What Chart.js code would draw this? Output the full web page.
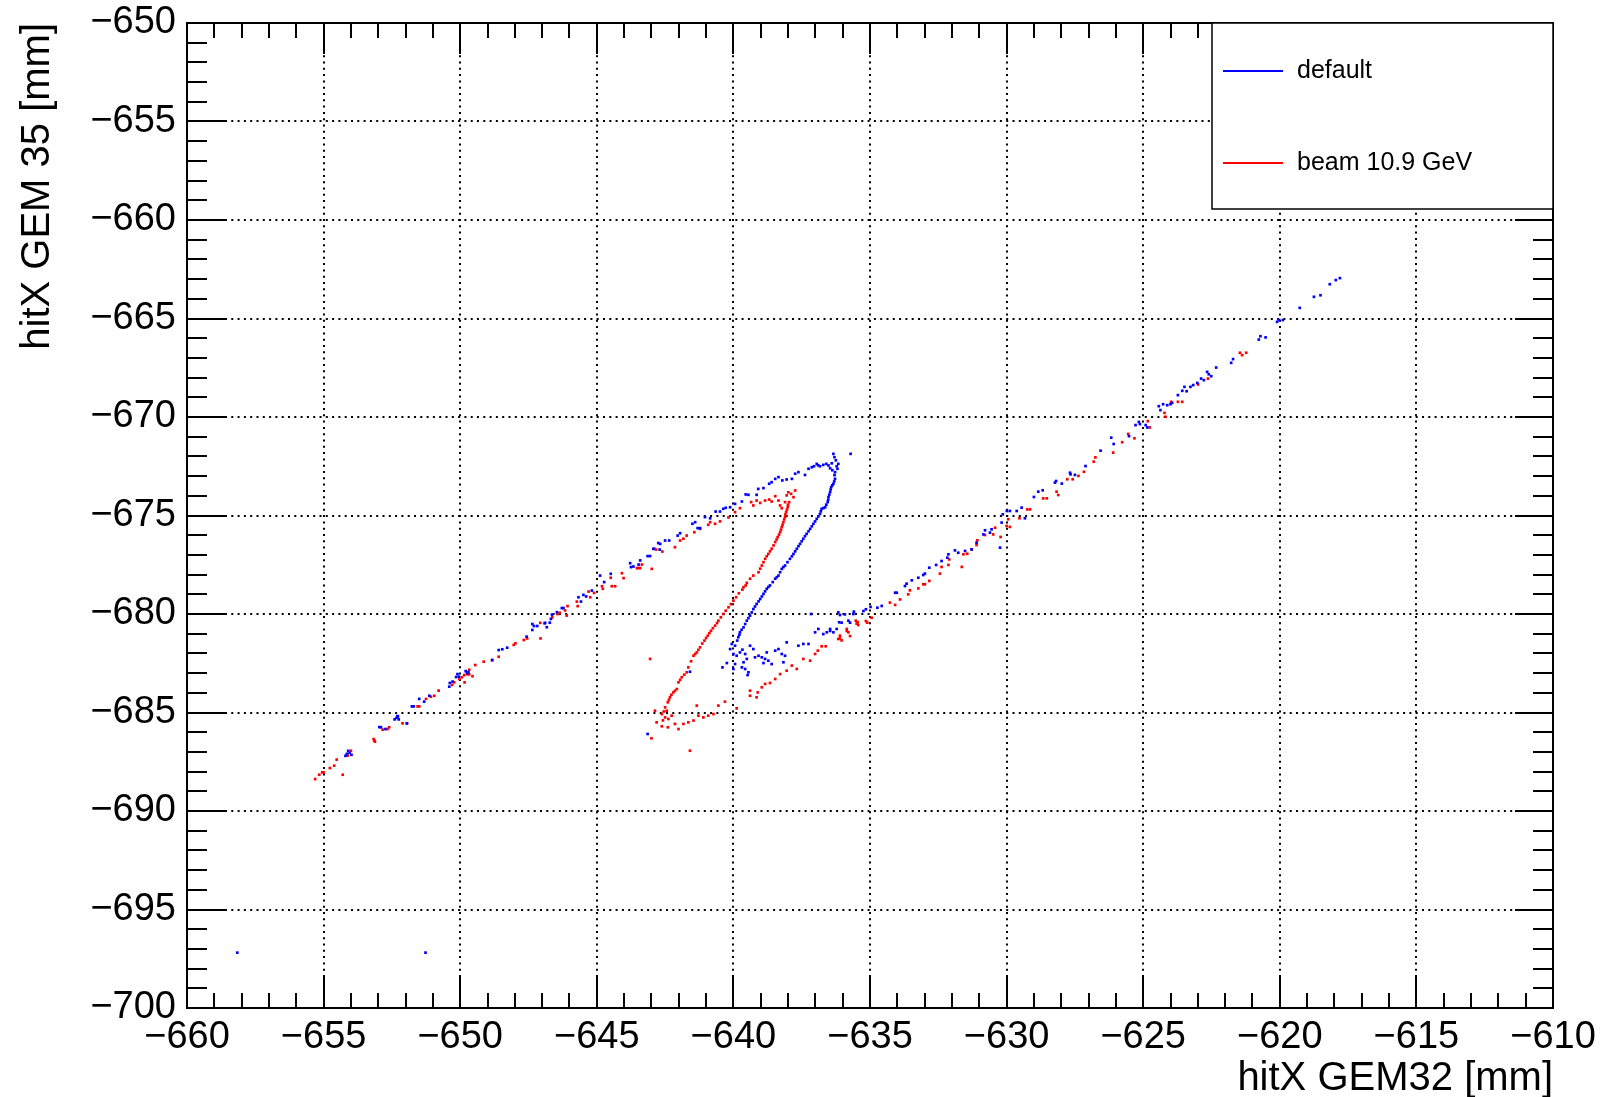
<!DOCTYPE html>
<html>
<head>
<meta charset="utf-8">
<title>hitX GEM32 vs GEM35</title>
<script src="https://cdn.jsdelivr.net/npm/chart.js@4.4.1/dist/chart.umd.min.js"></script>
<style>
  html, body { margin: 0; padding: 0; background: #fff; }
  #wrap { width: 1605px; height: 1097px; position: relative; }
</style>
</head>
<body>
<div id="wrap"><canvas id="grafica"></canvas></div>
<script>
// hits, [hitX GEM32, hitX GEM35] in mm
const defaultHits = [
  [-658.16,-697.19],[-651.27,-697.19],
  [-654.2,-687.2],[-654.1,-686.95],[-654.05,-687.05],[-653.98,-687.15],[-654.15,-687.1],
  [-652.96,-685.74],[-652.9,-685.75],[-652.74,-685.84],
  [-652.4,-685.35],[-652.33,-685.27],[-652.28,-685.2],[-652.25,-685.35],[-652.3,-685.18],
  [-651.95,-685.55],[-651.77,-684.69],[-651.7,-684.69],[-651.5,-684.31],[-651.32,-684.45],[-651.13,-684.15],
  [-650.4,-683.69],[-650.38,-683.5],[-650.28,-683.43],[-650.15,-683.2],[-650.1,-683.05],[-650.05,-683.18],
  [-649.8,-682.9],[-649.7,-682.95],[-649.75,-683.0],
  [-648.83,-682.34],[-648.59,-681.83],[-648.46,-681.79],[-648.28,-681.71],
  [-647.57,-681.15],[-647.36,-680.81],[-647.3,-680.61],[-647.18,-680.61],[-647.36,-680.51],
  [-646.91,-680.47],[-646.72,-680.44],[-646.89,-680.45],[-646.83,-680.67],[-646.68,-680.25],[-646.64,-680.03],
  [-646.46,-679.91],[-646.28,-679.7],[-646.22,-679.7],[-645.67,-679.15],[-645.58,-679.37],[-645.49,-679.03],
  [-645.39,-679.11],[-645.18,-678.81],[-644.88,-678.05],[-644.73,-678.38],[-644.49,-677.96],
  [-643.78,-677.42],[-643.75,-677.62],[-643.66,-677.59],[-643.41,-677.28],[-643.47,-677.49],
  [-643.14,-677.06],[-643.05,-677.06],[-642.7,-676.73],[-642.68,-676.44],
  [-642.93,-676.69],[-642.75,-676.4],[-642.5,-676.27],[-642.35,-676.27],[-642.04,-676.02],[-641.95,-675.9],
  [-641.5,-675.42],[-641.4,-675.34],[-641.31,-675.64],[-641.22,-675.64],[-641.04,-675.08],[-640.85,-675.14],
  [-640.65,-674.8],[-640.49,-674.8],[-640.37,-674.66],[-640.28,-674.61],[-640.12,-674.58],[-639.94,-674.41],
  [-639.69,-674.29],[-639.55,-673.93],[-639.45,-673.95],[-639.15,-673.95],[-639.09,-673.65],[-638.9,-673.61],
  [-638.69,-673.39],[-638.6,-673.31],[-638.47,-673.14],[-638.35,-673.05],[-638.21,-673.22],[-638.05,-673.17],
  [-637.86,-673.14],[-637.74,-672.88],[-637.62,-672.8],[-637.38,-672.94],[-637.25,-672.63],[-637.13,-672.55],
  [-636.95,-672.38],[-636.83,-672.5],[-636.71,-672.43],[-636.52,-672.46],[-636.46,-672.6],[-636.34,-671.87],
  [-636.3,-672.04],[-636.16,-672.38],[-636.19,-672.63],[-635.71,-671.87],
  [-636.6,-672.38],[-636.4,-672.35],[-636.25,-672.2],[-636.22,-672.5],[-636.9,-672.45],[-637.05,-672.5],[-636.38,-672.7],
  [-636.28,-672.8],[-636.28,-673.14],[-636.34,-673.39],[-636.42,-673.56],[-636.46,-673.81],[-636.52,-674.07],
  [-636.55,-674.32],[-636.64,-674.58],[-636.77,-674.66],[-636.83,-674.92],[-636.95,-675.17],[-637.07,-675.42],
  [-637.19,-675.68],[-637.32,-675.93],[-637.44,-676.18],[-637.56,-676.44],[-637.68,-676.69],[-637.8,-676.95],
  [-637.93,-677.2],[-638.11,-677.54],[-638.23,-677.71],[-638.35,-678.05],[-638.47,-678.21],[-638.66,-678.55],
  [-638.78,-678.72],[-638.9,-678.98],[-639.02,-679.24],[-639.15,-679.49],[-639.27,-679.75],[-639.39,-680.08],
  [-639.51,-680.34],[-639.63,-680.68],[-639.76,-680.93],[-639.82,-681.18],
  [-636.3,-672.95],[-636.31,-673.27],[-636.38,-673.47],[-636.44,-673.68],[-636.49,-673.94],[-636.53,-674.2],
  [-636.6,-674.45],[-636.7,-674.62],[-636.8,-674.79],[-636.89,-675.05],[-637.01,-675.3],[-637.13,-675.55],
  [-637.25,-675.8],[-637.38,-676.05],[-637.5,-676.31],[-637.62,-676.56],[-637.74,-676.82],[-637.86,-677.07],
  [-638.02,-677.37],[-638.17,-677.62],[-638.29,-677.88],[-638.41,-678.13],[-638.56,-678.38],[-638.72,-678.63],
  [-638.84,-678.85],[-638.96,-679.11],[-639.08,-679.36],[-639.21,-679.62],[-639.33,-679.92],[-639.45,-680.21],
  [-639.57,-680.51],[-639.7,-680.8],[-639.78,-681.05],[-639.86,-681.35],
  [-640.06,-681.52],[-639.94,-681.61],[-640.12,-681.78],[-640.0,-682.03],[-639.88,-682.12],[-639.76,-681.95],
  [-639.67,-681.81],[-639.57,-682.03],[-639.51,-682.28],[-639.63,-682.45],[-639.69,-682.71],[-639.57,-682.79],
  [-639.45,-682.96],[-639.94,-682.54],[-640.0,-682.79],[-640.24,-682.49],[-640.4,-682.71],[-639.39,-681.61],
  [-639.27,-681.78],[-639.21,-682.2],[-639.08,-682.12],[-638.96,-682.2],[-638.84,-682.28],[-638.72,-682.37],
  [-638.78,-681.95],[-638.6,-682.54],[-638.47,-681.86],[-638.35,-681.78],[-638.23,-682.03],[-638.11,-682.12],
  [-638.05,-681.44],[-638.17,-682.45],[-638.9,-682.49],[-639.48,-683.1],[-643.14,-686.09],[-641.59,-682.93],
  [-637.62,-681.61],[-637.44,-681.52],[-637.25,-681.52],[-637.01,-680.93],[-636.89,-680.76],[-636.71,-681.02],
  [-636.58,-680.93],[-636.46,-680.76],[-636.34,-680.93],[-636.22,-680.76],[-636.13,-680.42],[-635.79,-680.34],
  [-635.61,-680.0],[-636.16,-679.92],[-637.16,-680.0],
  [-636.46,-680.86],[-636.04,-680.44],[-636.1,-680.05],[-635.92,-680.02],[-635.73,-680.44],[-635.59,-679.88],
  [-635.24,-679.85],[-635.15,-679.76],[-634.98,-679.64],[-634.73,-679.68],[-634.57,-679.59],[-634.08,-678.92],
  [-634.02,-678.92],[-633.72,-678.58],[-633.66,-678.46],[-633.47,-678.29],[-633.23,-678.16],[-633.05,-678.02],
  [-632.99,-677.95],[-632.83,-677.65],[-632.58,-677.51],[-632.38,-677.31],[-632.17,-677.14],[-632.13,-676.97],
  [-631.89,-676.77],[-631.77,-676.89],[-631.52,-676.8],[-631.28,-676.72],[-631.1,-676.38],[-630.85,-675.96],
  [-630.79,-675.75],[-630.61,-675.87],[-630.55,-675.7],[-630.24,-676.63],[-630.18,-675.36],[-630.14,-674.94],
  [-629.99,-674.77],[-629.88,-674.77],[-629.63,-674.77],[-629.45,-674.6],[-629.33,-675.14],[-629.0,-674.06],
  [-628.84,-673.79],[-628.68,-673.72],[-628.23,-673.33],[-628.19,-673.25],[-627.98,-673.38],[-627.68,-672.83],
  [-627.66,-672.91],[-627.5,-672.94],[-627.11,-672.49],[-626.56,-671.71],[-626.17,-671.05],[-626.08,-671.37],
  [-625.52,-670.97],[-625.28,-670.41],[-625.16,-670.25],[-625.12,-670.36],[-624.91,-670.41],[-624.85,-670.53],
  [-624.43,-669.45],[-624.37,-669.65],[-624.27,-669.35],[-624.12,-669.4],[-624.0,-669.35],[-623.94,-669.28],
  [-623.73,-668.89],[-623.57,-668.67],[-623.49,-668.47],[-623.41,-668.69],[-623.27,-668.47],[-623.17,-668.38],
  [-623.02,-668.27],[-622.88,-668.05],[-622.78,-668.13],[-622.66,-667.71],[-622.6,-667.83],[-622.51,-667.93],
  [-622.33,-667.49],[-621.78,-667.25],[-621.71,-667.06],[-620.77,-666.07],[-620.71,-665.9],[-620.52,-665.96],
  [-620.1,-665.17],[-620.03,-665.08],[-619.89,-665.08],[-619.27,-664.46],[-618.75,-663.9],[-618.51,-663.82],
  [-618.17,-663.26],[-617.95,-663.05],[-617.8,-662.95]
];

const beamHits = [
  [-655.31,-688.38],[-655.16,-688.16],[-655.05,-688.04],[-655.0,-688.04],[-654.77,-687.82],[-654.61,-687.7],
  [-654.52,-687.39],[-654.3,-688.16],[-654.12,-687.19],[-654.0,-686.94],[-653.17,-686.35],[-653.12,-686.48],
  [-653.14,-686.42],[-652.84,-685.87],[-652.66,-685.84],[-652.6,-685.75],[-652.11,-685.55],[-651.95,-685.55],
  [-651.56,-684.69],[-651.5,-684.69],[-651.25,-684.31],[-651.07,-684.2],[-650.95,-684.15],[-650.79,-683.89],
  [-650.3,-683.6],[-650.22,-683.47],[-650.03,-683.3],[-649.94,-683.21],[-649.85,-683.1],[-649.73,-683.06],
  [-649.67,-683.06],[-649.55,-683.16],[-649.45,-682.59],[-649.67,-682.83],[-649.84,-683.47],
  [-649.14,-682.42],[-648.83,-682.34],[-648.59,-682.17],[-648.04,-681.57],[-647.98,-681.49],[-647.67,-681.32],
  [-647.55,-681.24],[-647.06,-681.24],[-646.63,-680.17],
  [-647.07,-680.45],[-646.44,-680.0],[-646.36,-679.94],[-646.16,-679.82],[-646.1,-680.08],[-646.07,-679.6],
  [-645.73,-679.37],[-645.7,-679.6],[-645.3,-678.86],[-645.24,-679.15],[-645.1,-678.93],[-644.81,-678.59],
  [-644.78,-678.72],[-644.49,-678.16],[-644.45,-678.59],[-644.33,-678.59],[-644.08,-677.93],[-644.02,-678.18],
  [-643.53,-677.67],[-643.47,-677.67],[-643.41,-677.67],[-643.35,-677.49],[-642.83,-676.73],
  [-642.99,-677.71],[-642.89,-676.69],[-642.6,-676.83],[-642.14,-676.61],[-641.95,-676.27],[-641.83,-676.18],
  [-641.71,-676.02],[-641.43,-675.85],[-641.22,-675.68],[-640.92,-675.47],[-640.85,-675.34],[-640.67,-675.42],
  [-640.49,-675.3],[-640.18,-675.1],[-639.94,-674.83],[-639.76,-674.63],[-639.35,-674.32],[-639.27,-674.49],
  [-639.15,-674.24],[-639.02,-674.36],[-638.84,-674.24],[-638.69,-674.19],[-638.6,-674.29],[-638.47,-674.02],
  [-638.35,-674.24],[-638.29,-674.49],[-638.23,-674.63],[-638.11,-674.32],[-638.05,-673.98],[-637.99,-673.82],
  [-637.89,-673.9],[-637.8,-674.07],[-637.74,-673.73],
  [-637.96,-674.32],[-638.01,-674.58],[-638.07,-674.83],[-638.11,-675.08],[-638.17,-675.34],[-638.23,-675.59],
  [-638.29,-675.85],[-638.38,-676.1],[-638.47,-676.35],[-638.6,-676.69],[-638.72,-676.95],[-638.84,-677.2],
  [-638.96,-677.54],[-639.08,-677.88],[-639.27,-678.05],[-639.39,-678.21],[-639.51,-678.42],[-639.63,-678.64],
  [-639.67,-678.76],[-640.0,-679.32],[-640.18,-679.66],[-640.37,-680.0],[-640.55,-680.34],[-640.67,-680.59],
  [-640.82,-680.85],[-640.94,-681.1],[-641.06,-681.35],[-641.22,-681.69],[-641.34,-681.95],[-641.46,-682.12],
  [-641.65,-682.71],[-641.71,-682.96],[-641.89,-683.21],[-642.01,-683.47],[-642.07,-683.81],[-642.2,-683.98],
  [-642.32,-684.23],[-642.4,-684.48],[-642.5,-684.74],[-642.44,-684.91],[-642.62,-685.08],[-642.5,-685.25],
  [-642.38,-685.33],[-642.26,-685.16],[-642.81,-685.5],[-642.62,-685.7],[-642.4,-685.75],[-642.14,-685.58],
  [-642.01,-685.84],[-641.83,-685.58],[-641.65,-685.5],[-641.46,-685.41],[-641.28,-685.16],[-641.1,-685.25],
  [-640.92,-685.16],[-640.73,-685.08],[-640.55,-684.65],[-640.31,-684.45],[-639.88,-684.79],[-643.05,-682.28],
  [-643.0,-686.31],[-641.59,-686.94],[-642.87,-684.91],[-641.34,-684.65],
  [-638.0,-674.45],[-638.04,-674.7],[-638.1,-674.95],[-638.14,-675.2],[-638.2,-675.47],[-638.26,-675.72],
  [-638.33,-675.97],[-638.42,-676.22],[-638.53,-676.52],[-638.66,-676.82],[-638.78,-677.07],[-638.9,-677.37],
  [-639.02,-677.7],[-639.55,-678.55],[-639.8,-678.95],[-639.9,-679.15],[-640.09,-679.5],[-640.28,-679.83],
  [-640.46,-680.17],[-640.6,-680.46],[-640.75,-680.72],[-640.88,-680.97],[-641.0,-681.22],[-641.14,-681.5],
  [-641.28,-681.82],[-641.4,-682.03],[-641.55,-682.4],[-641.8,-683.08],[-641.95,-683.34],[-642.14,-683.9],
  [-642.27,-684.1],[-642.36,-684.35],[-642.55,-684.95],[-642.58,-685.4],
  [-639.39,-683.89],[-639.39,-684.15],[-639.15,-684.23],[-639.11,-683.98],[-638.96,-683.72],[-638.84,-683.55],
  [-638.66,-683.5],[-638.47,-683.3],[-638.29,-683.05],[-638.05,-682.88],[-637.86,-682.62],[-637.68,-682.79],
  [-637.44,-682.28],[-637.19,-682.37],[-637.01,-682.03],[-636.91,-681.86],[-636.77,-681.64],[-636.62,-681.64],
  [-636.16,-681.27],[-636.1,-681.1],[-635.85,-680.76],[-635.79,-680.93],[-635.52,-680.34],[-635.45,-680.42],
  [-636.1,-681.24],[-636.04,-681.34],[-635.85,-680.86],[-635.73,-681.12],[-635.49,-680.49],[-635.43,-680.56],
  [-635.15,-680.36],[-635.1,-680.44],[-634.94,-680.19],[-634.27,-679.42],[-634.08,-679.54],[-633.9,-679.26],
  [-633.6,-679.0],[-633.54,-678.8],[-633.23,-678.7],[-633.05,-678.49],[-632.99,-678.49],[-632.83,-678.32],
  [-632.44,-677.95],[-632.38,-677.61],[-632.13,-677.51],[-632.1,-677.23],[-631.64,-677.61],[-631.58,-676.97],
  [-631.44,-676.94],[-631.28,-676.72],[-631.1,-676.5],[-631.07,-676.26],[-630.79,-675.99],[-630.49,-675.96],
  [-630.42,-675.62],[-630.22,-676.09],[-630.0,-675.53],[-629.94,-675.19],[-629.88,-675.58],[-629.53,-675.14],
  [-629.24,-674.69],[-629.14,-674.69],[-628.66,-674.13],[-628.53,-674.13],[-628.17,-673.79],[-628.11,-673.96],
  [-627.78,-673.16],[-627.58,-673.16],[-627.37,-672.99],[-627.17,-672.78],[-626.81,-672.27],[-626.75,-672.05],
  [-626.1,-671.81],[-625.77,-671.28],[-625.55,-670.86],[-625.32,-671.08],
  [-624.83,-670.21],[-624.76,-670.53],[-624.22,-669.79],[-624.18,-669.99],[-623.98,-669.23],[-623.73,-669.23],
  [-623.57,-669.23],[-622.99,-668.35],[-622.63,-668.05],[-621.46,-666.74],[-621.38,-666.86],[-621.23,-666.74]
];

const etiquetas = ["default", "beam 10.9 GeV"];
const colores = ["rgb(0,0,255)", "rgb(255,0,0)"];
const rangoX = [-660, -610];
const rangoY = [-700, -650];
const tituloX = "hitX GEM32 [mm]";
const tituloY = "hitX GEM 35 [mm]";

const fuente = "'Liberation Sans', Arial, Helvetica, sans-serif";

function menos(v) {
  return v < 0 ? "\u2212" + Math.abs(v) : String(v);
}

// ROOT-like frame: dotted grid, ticks pointing inwards on all four sides, legend box
const marcoRoot = {
  id: "marcoRoot",
  beforeDatasetsDraw(chart) {
    const {ctx, chartArea: a, scales: {x, y}} = chart;
    ctx.save();
    ctx.strokeStyle = "#000";
    ctx.lineWidth = 2;
    ctx.setLineDash([2, 4.3]);
    ctx.beginPath();
    x.ticks.forEach(t => {
      const px = Math.round(x.getPixelForValue(t.value));
      if (px < a.left + 2 || px > a.right - 2) return;
      ctx.moveTo(px, a.bottom - 31);
      ctx.lineTo(px, a.top + 31);
    });
    y.ticks.forEach(t => {
      const py = Math.round(y.getPixelForValue(t.value));
      if (py < a.top + 2 || py > a.bottom - 2) return;
      ctx.moveTo(a.left + 38, py);
      ctx.lineTo(a.right - 38, py);
    });
    ctx.stroke();
    ctx.restore();
  },
  afterDraw(chart) {
    const {ctx, chartArea: a, scales: {x, y}} = chart;
    ctx.save();
    ctx.strokeStyle = "#000";
    ctx.lineWidth = 2;
    ctx.setLineDash([]);
    ctx.beginPath();
    for (let v = rangoX[0]; v <= rangoX[1]; v += 1) {
      const px = Math.round(x.getPixelForValue(v));
      const len = (v % 5 === 0) ? 31 : 15;
      ctx.moveTo(px, a.bottom); ctx.lineTo(px, a.bottom - len);
      ctx.moveTo(px, a.top); ctx.lineTo(px, a.top + len);
    }
    for (let v = rangoY[0]; v <= rangoY[1]; v += 1) {
      const py = Math.round(y.getPixelForValue(v));
      const len = (v % 5 === 0) ? 38 : 20;
      ctx.moveTo(a.left, py); ctx.lineTo(a.left + len, py);
      ctx.moveTo(a.right, py); ctx.lineTo(a.right - len, py);
    }
    ctx.stroke();
    ctx.strokeRect(a.left, a.top, a.right - a.left, a.bottom - a.top);

    // legend
    const lx = 1212, ly = a.top, lw = a.right - 1212, lh = 186;
    ctx.fillStyle = "#fff";
    ctx.fillRect(lx, ly, lw, lh);
    ctx.lineWidth = 1.5;
    ctx.strokeRect(lx, ly, lw, lh);
    const filas = [ly + 48, ly + 140];
    chart.data.datasets.forEach((ds, i) => {
      ctx.strokeStyle = ds.backgroundColor;
      ctx.lineWidth = 2;
      ctx.beginPath();
      ctx.moveTo(1223, filas[i]);
      ctx.lineTo(1283, filas[i]);
      ctx.stroke();
      ctx.fillStyle = "#000";
      ctx.font = "25px " + fuente;
      ctx.textBaseline = "middle";
      ctx.textAlign = "left";
      ctx.fillText(ds.label, 1297, filas[i]);
    });
    ctx.restore();
  }
};

const ctz = document.getElementById("grafica");
const data = {
  datasets: [
    {
      label: etiquetas[0],
      data: defaultHits.map(p => ({x: p[0], y: p[1]})),
      backgroundColor: colores[0],
      borderWidth: 0,
      pointStyle: "rect",
      pointRadius: 1.9,
    },
    {
      label: etiquetas[1],
      data: beamHits.map(p => ({x: p[0], y: p[1]})),
      backgroundColor: colores[1],
      borderWidth: 0,
      pointStyle: "rect",
      pointRadius: 1.9,
    }
  ]
};

const myChart = new Chart(ctz, {
  type: "scatter",
  data: data,
  plugins: [marcoRoot],
  options: {
    responsive: true,
    maintainAspectRatio: false,
    animation: false,
    events: [],
    layout: { padding: { top: 23, right: 52, left: 10, bottom: 0 } },
    plugins: {
      legend: { display: false },
      tooltip: { enabled: false }
    },
    scales: {
      x: {
        type: "linear",
        min: rangoX[0],
        max: rangoX[1],
        grid: { display: false, drawTicks: false },
        border: { display: false },
        ticks: {
          stepSize: 5,
          autoSkip: false,
          maxRotation: 0,
          padding: 7,
          color: "#000",
          font: { family: fuente, size: 38 },
          callback: v => menos(v)
        },
        title: {
          display: true,
          text: tituloX,
          align: "end",
          color: "#000",
          font: { family: fuente, size: 40, lineHeight: 0.9 },
          padding: { top: 0, bottom: 0 }
        },
        afterFit: s => { s.height = 89; s.paddingLeft = 0; s.paddingRight = 0; }
      },
      y: {
        type: "linear",
        min: rangoY[0],
        max: rangoY[1],
        grid: { display: false, drawTicks: false },
        border: { display: false },
        ticks: {
          stepSize: 5,
          autoSkip: false,
          padding: 11,
          color: "#000",
          font: { family: fuente, size: 38 },
          callback: v => menos(v)
        },
        title: {
          display: true,
          text: tituloY,
          align: "end",
          color: "#000",
          font: { family: fuente, size: 40, lineHeight: 1.1 },
          padding: { top: 6, bottom: 0 }
        },
        afterFit: s => { s.width = 177; s.paddingTop = 0; s.paddingBottom = 0; }
      }
    }
  }
});
</script>
</body>
</html>
